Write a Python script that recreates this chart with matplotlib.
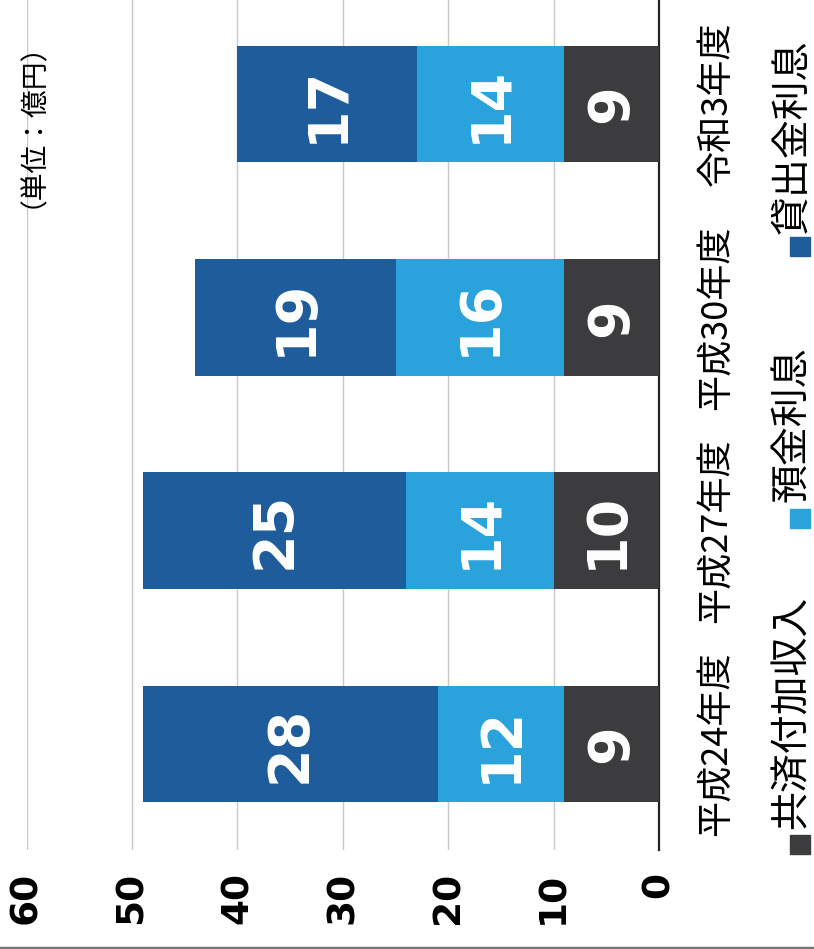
import matplotlib.pyplot as plt
from matplotlib.patches import Rectangle
from matplotlib.lines import Line2D

plt.rcParams['font.family'] = ['Noto Sans CJK JP', 'DejaVu Sans']

# data
years = ['平成24年度', '平成27年度', '平成30年度', '令和3年度']
kyosai = [9, 10, 9, 9]          # 共済付加収入
yokin = [12, 14, 16, 14]        # 預金利息
kashidashi = [28, 25, 19, 17]   # 貸出金利息
series_names = ['共済付加収入', '預金利息', '貸出金利息']
ticks = [0, 10, 20, 30, 40, 50, 60]

colors = ['#3c3b3d', '#2aa2dc', '#1f5c9c']

W, H = 814, 949
fig = plt.figure(figsize=(W / 100, H / 100), dpi=100)
ax = fig.add_axes([26.6 / W, 99 / H, 632.4 / W, 850 / H])

# chart is printed rotated: values run right-to-left, categories bottom-to-top
pos = list(range(len(years)))
left = [0] * len(years)
for vals, c in zip([kyosai, yokin, kashidashi], colors):
    bars = ax.barh(pos, vals, left=left, height=0.548, color=c, zorder=3)
    for b, v in zip(bars, vals):
        ax.text(b.get_x() + b.get_width() / 2, b.get_y() + b.get_height() / 2,
                str(v), rotation=90, ha='center', va='center', color='white',
                fontsize=40, fontweight='bold', family='DejaVu Sans', zorder=4)
    left = [l + v for l, v in zip(left, vals)]

ax.set_xlim(60, 0)
ax.set_ylim(-0.497, 3.4875)
ax.set_xticks(ticks)
ax.set_xticklabels([str(t) for t in ticks], rotation=90, fontsize=27,
                   fontweight='bold', family='DejaVu Sans')
ax.tick_params(axis='x', length=0, pad=16)
ax.set_yticks([])
ax.grid(axis='x', color='#c8c8c8', linewidth=1, zorder=0)
for s in ['left', 'top', 'bottom']:
    ax.spines[s].set_visible(False)
ax.spines['right'].set_color('#222222')
ax.spines['right'].set_linewidth(1.6)

# category labels to the right of the baseline
for p, y in zip(pos, years):
    ax.text(1.0917, p, y, rotation=90, ha='center', va='center', fontsize=26,
            transform=ax.get_yaxis_transform(), clip_on=False)

# legend, drawn rotated
sq_y = [835, 509, 237]
txt_y = [829, 502, 234]
for name, c, sy, ty in zip(series_names, colors, sq_y, txt_y):
    fig.add_artist(Rectangle((790 / W, (H - sy - 19) / H), 20 / W, 19 / H,
                             transform=fig.transFigure, color=c))
    fig.text(792 / W, (H - ty) / H, name, rotation=90, ha='center', va='bottom',
             fontsize=28)

# unit label at the left page edge
fig.text(3 / W, (H - 111) / H, '（単位：億円）', rotation=90, ha='left',
         va='center', fontsize=20)

fig.add_artist(Line2D([0, 1], [1.5 / H, 1.5 / H], color='#777777', lw=2.5,
                      transform=fig.transFigure))

fig.savefig('out.png', dpi=100)
